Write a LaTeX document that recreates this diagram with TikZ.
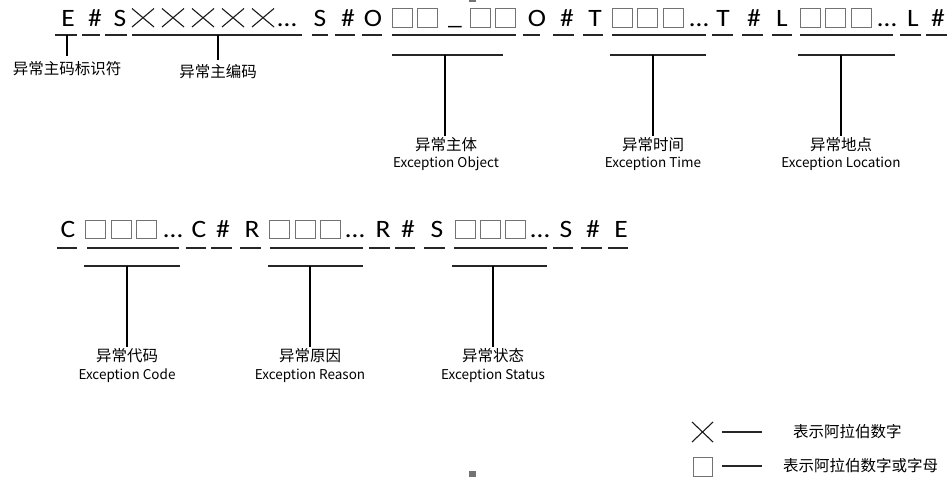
\documentclass[tikz,border=0pt]{standalone}
\usepackage{fontspec}
\setmainfont{Carlito}
\newfontfamily\chfont[FakeStretch=1.1]{Carlito}
\newfontfamily\cjk{Noto Sans CJK SC}
\begin{document}
\begin{tikzpicture}[x=1pt,y=-1pt,
  ch/.style={font=\chfont\fontsize{25}{25}\selectfont, anchor=base, inner sep=0pt},
  bx/.style={draw=black!55, line width=1pt, minimum width=20pt, minimum height=18.5pt, inner sep=0pt},
  ul/.style={draw=black!85, line width=1.1pt},
  xm/.style={draw=black!90, line width=1.1pt},
  zh/.style={font=\cjk\fontsize{15.5}{15.5}\selectfont, inner sep=0pt},
  en/.style={font=\cjk\fontsize{13.5}{13.5}\selectfont, inner sep=0pt},
  lead/.style={draw=black, line width=1.1pt}]
\useasboundingbox (0,0) rectangle (948,477);
% ---------- row 1 ----------
\node[ch] (r1E) at (68,26.5) {E};
\node[ch] (r1h1) at (95,26.5) {\#};
\node[ch] (r1S) at (120,26.5) {S};
\foreach \x in {143,173,203,233,263}{
  \draw[xm] (\x-11,8.5) -- (\x+11,27) (\x-11,27) -- (\x+11,8.5);}
\node[ch] (r1d1) at (287,26.5) {\dots};
\node[ch] (r1S2) at (320,26.5) {S};
\node[ch] (r1h2) at (348,26.5) {\#};
\node[ch] (r1O) at (373,26.5) {O};
\foreach \x in {402,427,480,505,622.5,647.5,673,810,835.5,861}{
  \node[bx] at (\x,18) {};}
\node[ch] (r1us) at (455,24) {\_};
\node[ch] (r1O2) at (537,26.5) {O};
\node[ch] (r1h3) at (567,26.5) {\#};
\node[ch] (r1T) at (595,26.5) {T};
\node[ch] (r1d2) at (699,26.5) {\dots};
\node[ch] (r1T2) at (723,26.5) {T};
\node[ch] (r1h4) at (754,26.5) {\#};
\node[ch] (r1L) at (782,26.5) {L};
\node[ch] (r1d3) at (887,26.5) {\dots};
\node[ch] (r1L2) at (913,26.5) {L};
\node[ch] (r1h5) at (938,26.5) {\#};
\foreach \a/\b in {55/77,82/100,105/127,132/302,312/328,335/355,362/382,392/516,523/540,553/574,583/603,612/706,712/733,742/763,772/792,800/893,900/921,926/947}{
  \draw[ul] (\a,35) -- (\b,35);}
\foreach \a/\b in {392/503,610/706,798/895}{
  \draw[ul] (\a,55) -- (\b,55);}
% labels row 1
\coordinate (cE) at (67,35);
\coordinate (cCode) at (218,35);
\coordinate (cObj) at (445,55);
\coordinate (cTime) at (653,55);
\coordinate (cLoc) at (841,55);
\node[zh] (lE) at (67,69) {异常主码标识符};
\node[zh] (lCode) at (218,72) {异常主编码};
\node[zh] (lObj) at (446,145) {异常主体};
\node[en] (eObj) at (446,164) {Exception Object};
\node[zh] (lTime) at (653,145) {异常时间};
\node[en] (eTime) at (653,164) {Exception Time};
\node[zh] (lLoc) at (841,145) {异常地点};
\node[en] (eLoc) at (841,164) {Exception Location};
\draw[lead, shorten >=6pt] (cE) -- (cE |- lE.north);
\draw[lead, shorten >=5pt] (cCode) -- (lCode.north);
\draw[lead, shorten >=2pt] (cObj) -- (cObj |- lObj.north);
\draw[lead, shorten >=2pt] (cTime) -- (lTime.north);
\draw[lead, shorten >=2pt] (cLoc) -- (lLoc.north);
% ---------- row 2 ----------
\node[ch] (r2C) at (68,237.5) {C};
\foreach \x in {95,121,146,279.5,305,330,465,490,515}{
  \node[bx] at (\x,229.5) {};}
\node[ch] (r2d1) at (173,237.5) {\dots};
\node[ch] (r2C2) at (199,237.5) {C};
\node[ch] (r2h1) at (223,237.5) {\#};
\node[ch] (r2R) at (252,237.5) {R};
\node[ch] (r2d2) at (355,237.5) {\dots};
\node[ch] (r2R2) at (383,237.5) {R};
\node[ch] (r2h2) at (408,237.5) {\#};
\node[ch] (r2S) at (437,237.5) {S};
\node[ch] (r2d3) at (540,237.5) {\dots};
\node[ch] (r2S2) at (566,237.5) {S};
\node[ch] (r2h3) at (593,237.5) {\#};
\node[ch] (r2E) at (621,237.5) {E};
\foreach \a/\b in {57/77,87/179,186/206,211/232,240/261,270/363,369/390,395/415,424/445,454/547,553/573,581/602,608/628}{
  \draw[ul] (\a,248) -- (\b,248);}
\foreach \a/\b in {84/180,268/363,452/547}{
  \draw[ul] (\a,266) -- (\b,266);}
\coordinate (cCd) at (127,266);
\coordinate (cRs) at (310,266);
\coordinate (cSt) at (493,266);
\node[zh] (lCd) at (127,356) {异常代码};
\node[en] (eCd) at (127,376) {Exception Code};
\node[zh] (lRs) at (310,356) {异常原因};
\node[en] (eRs) at (310,376) {Exception Reason};
\node[zh] (lSt) at (493,356) {异常状态};
\node[en] (eSt) at (493,376) {Exception Status};
\draw[lead, shorten >=2pt] (cCd) -- (lCd.north);
\draw[lead, shorten >=2pt] (cRs) -- (lRs.north);
\draw[lead, shorten >=2pt] (cSt) -- (lSt.north);
% ---------- legend ----------
\draw[xm] (692,422) -- (713,442) (692,442) -- (713,422);
\coordinate (lg1a) at (722,432);
\coordinate (lg1b) at (762,432);
\draw[ul] (lg1a) -- (lg1b);
\node[zh, anchor=west] (lg1) at (793,432) {表示阿拉伯数字};
\node[bx, minimum width=19pt, minimum height=19pt] (lgbox) at (702.5,466.5) {};
\coordinate (lg2a) at (722,466);
\coordinate (lg2b) at (762,466);
\draw[ul] (lg2a) -- (lg2b);
\node[zh, anchor=west] (lg2) at (783,466) {表示阿拉伯数字或字母};
% selection handles
\fill[black!55] (469,471) rectangle (476,477);
\fill[black!55] (469,0) rectangle (476,2);
\end{tikzpicture}
\end{document}
